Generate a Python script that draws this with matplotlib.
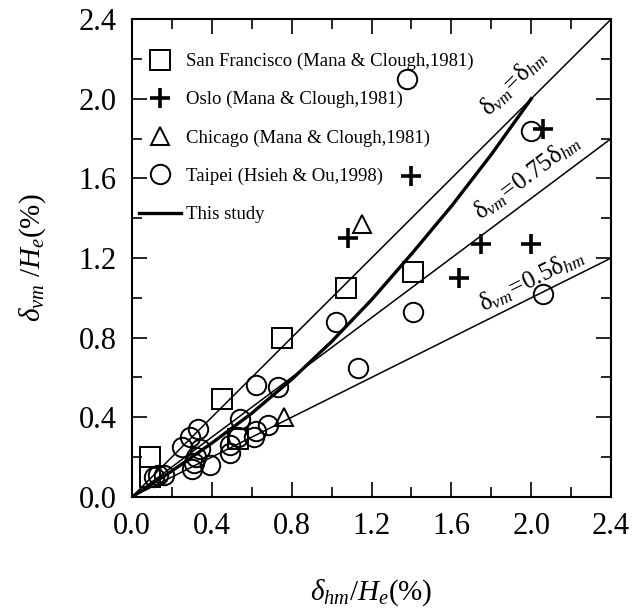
import numpy as np
import matplotlib as mpl
mpl.use('Agg')
import matplotlib.pyplot as plt
from matplotlib.ticker import MultipleLocator

plt.rcParams['font.family'] = ['Liberation Serif', 'DejaVu Serif']
plt.rcParams['mathtext.fontset'] = 'custom'
plt.rcParams['mathtext.rm'] = 'Liberation Serif'
plt.rcParams['mathtext.it'] = 'Liberation Serif:italic'

# San Francisco (Mana & Clough,1981)
sf_x = [0.09, 0.09, 0.45, 0.53, 0.75, 1.07, 1.41]
sf_y = [0.20, 0.10, 0.49, 0.29, 0.80, 1.05, 1.13]
# Oslo (Mana & Clough,1981)
oslo_x = [1.08, 1.40, 2.06, 1.75, 2.00, 1.64]
oslo_y = [1.30, 1.61, 1.85, 1.27, 1.27, 1.10]
# Chicago (Mana & Clough,1981)
chi_x = [1.15, 0.76]
chi_y = [1.37, 0.40]
# Taipei (Hsieh & Ou,1998)
tp_x = [1.38, 2.00, 1.02, 1.41, 1.13, 2.06, 0.62, 0.73, 0.54, 0.68, 0.62, 0.61,
        0.53, 0.49, 0.49, 0.33, 0.29, 0.25, 0.34, 0.32, 0.31, 0.30, 0.39, 0.13,
        0.16, 0.11]
tp_y = [2.10, 1.84, 0.88, 0.93, 0.65, 1.02, 0.56, 0.55, 0.39, 0.36, 0.33, 0.30,
        0.30, 0.26, 0.22, 0.34, 0.30, 0.25, 0.24, 0.20, 0.17, 0.14, 0.16, 0.11,
        0.11, 0.10]
# This study
study_x = [0, 0.2, 0.4, 0.6, 0.8, 1.0, 1.2, 1.4, 1.6, 1.8, 2.0]
study_y = [0, 0.13, 0.27, 0.42, 0.59, 0.78, 0.99, 1.22, 1.46, 1.72, 2.0]
# reference lines
ref_x = [0, 2.4]
ref_y1 = [0, 2.4]
ref_y075 = [0, 1.8]
ref_y05 = [0, 1.2]

fig = plt.figure(figsize=(6.34, 6.15), dpi=100)
ax = fig.add_axes([0.208, 0.192, 0.756, 0.777])

ax.plot(ref_x, ref_y1, color='black', lw=1.1)
ax.plot(ref_x, ref_y075, color='black', lw=1.1)
ax.plot(ref_x, ref_y05, color='black', lw=1.1)

ax.plot(sf_x, sf_y, 's', ms=15, mfc='none', mec='black', mew=1.4,
        label='San Francisco (Mana & Clough,1981)')
ax.plot(oslo_x, oslo_y, '+', ms=15, mec='black', mew=2.6,
        label='Oslo (Mana & Clough,1981)')
ax.plot(chi_x, chi_y, '^', ms=13, mfc='none', mec='black', mew=1.4,
        label='Chicago (Mana & Clough,1981)')
ax.plot(tp_x, tp_y, 'o', ms=14, mfc='none', mec='black', mew=1.4,
        label='Taipei (Hsieh & Ou,1998)')
ax.plot(study_x, study_y, '-', color='black', lw=2.4, label='This study')

ax.text(1.91, 2.08, r'$\mathrm{\delta}_{vm}\!=\!\mathrm{\delta}_{hm}$', rotation=45,
        fontsize=18, ha='center', va='center', rotation_mode='anchor')
ax.text(1.98, 1.61, r'$\mathrm{\delta}_{vm}\!=\!0.75\mathrm{\delta}_{hm}$', rotation=36.87,
        fontsize=18, ha='center', va='center', rotation_mode='anchor')
ax.text(2.00, 1.09, r'$\mathrm{\delta}_{vm}\!=\!0.5\mathrm{\delta}_{hm}$', rotation=26.57,
        fontsize=18, ha='center', va='center', rotation_mode='anchor')

ax.set_xlim(0, 2.4)
ax.set_ylim(0, 2.4)
ax.xaxis.set_major_locator(MultipleLocator(0.4))
ax.xaxis.set_minor_locator(MultipleLocator(0.2))
ax.yaxis.set_major_locator(MultipleLocator(0.4))
ax.yaxis.set_minor_locator(MultipleLocator(0.2))
ax.xaxis.set_major_formatter(mpl.ticker.FormatStrFormatter('%.1f'))
ax.yaxis.set_major_formatter(mpl.ticker.FormatStrFormatter('%.1f'))
ax.tick_params(which='both', direction='in', top=True, right=True, width=1.2,
               labelsize=22, pad=11)
ax.tick_params(which='major', length=11)
ax.tick_params(which='minor', length=7)
for s in ax.spines.values():
    s.set_linewidth(1.5)

ax.set_xlabel(r'$\delta_{hm}/H_e$(%)', fontsize=21, labelpad=26)
ax.set_ylabel(r'$\delta_{vm}$ /$H_e$(%)', fontsize=21, labelpad=22)

ax.legend(loc='upper left', frameon=False, fontsize=13.5, handlelength=2.2,
          handletextpad=0.3, labelspacing=1.12, borderaxespad=0.0,
          bbox_to_anchor=(0.0, 0.945))

plt.savefig('out.png', dpi=100)
